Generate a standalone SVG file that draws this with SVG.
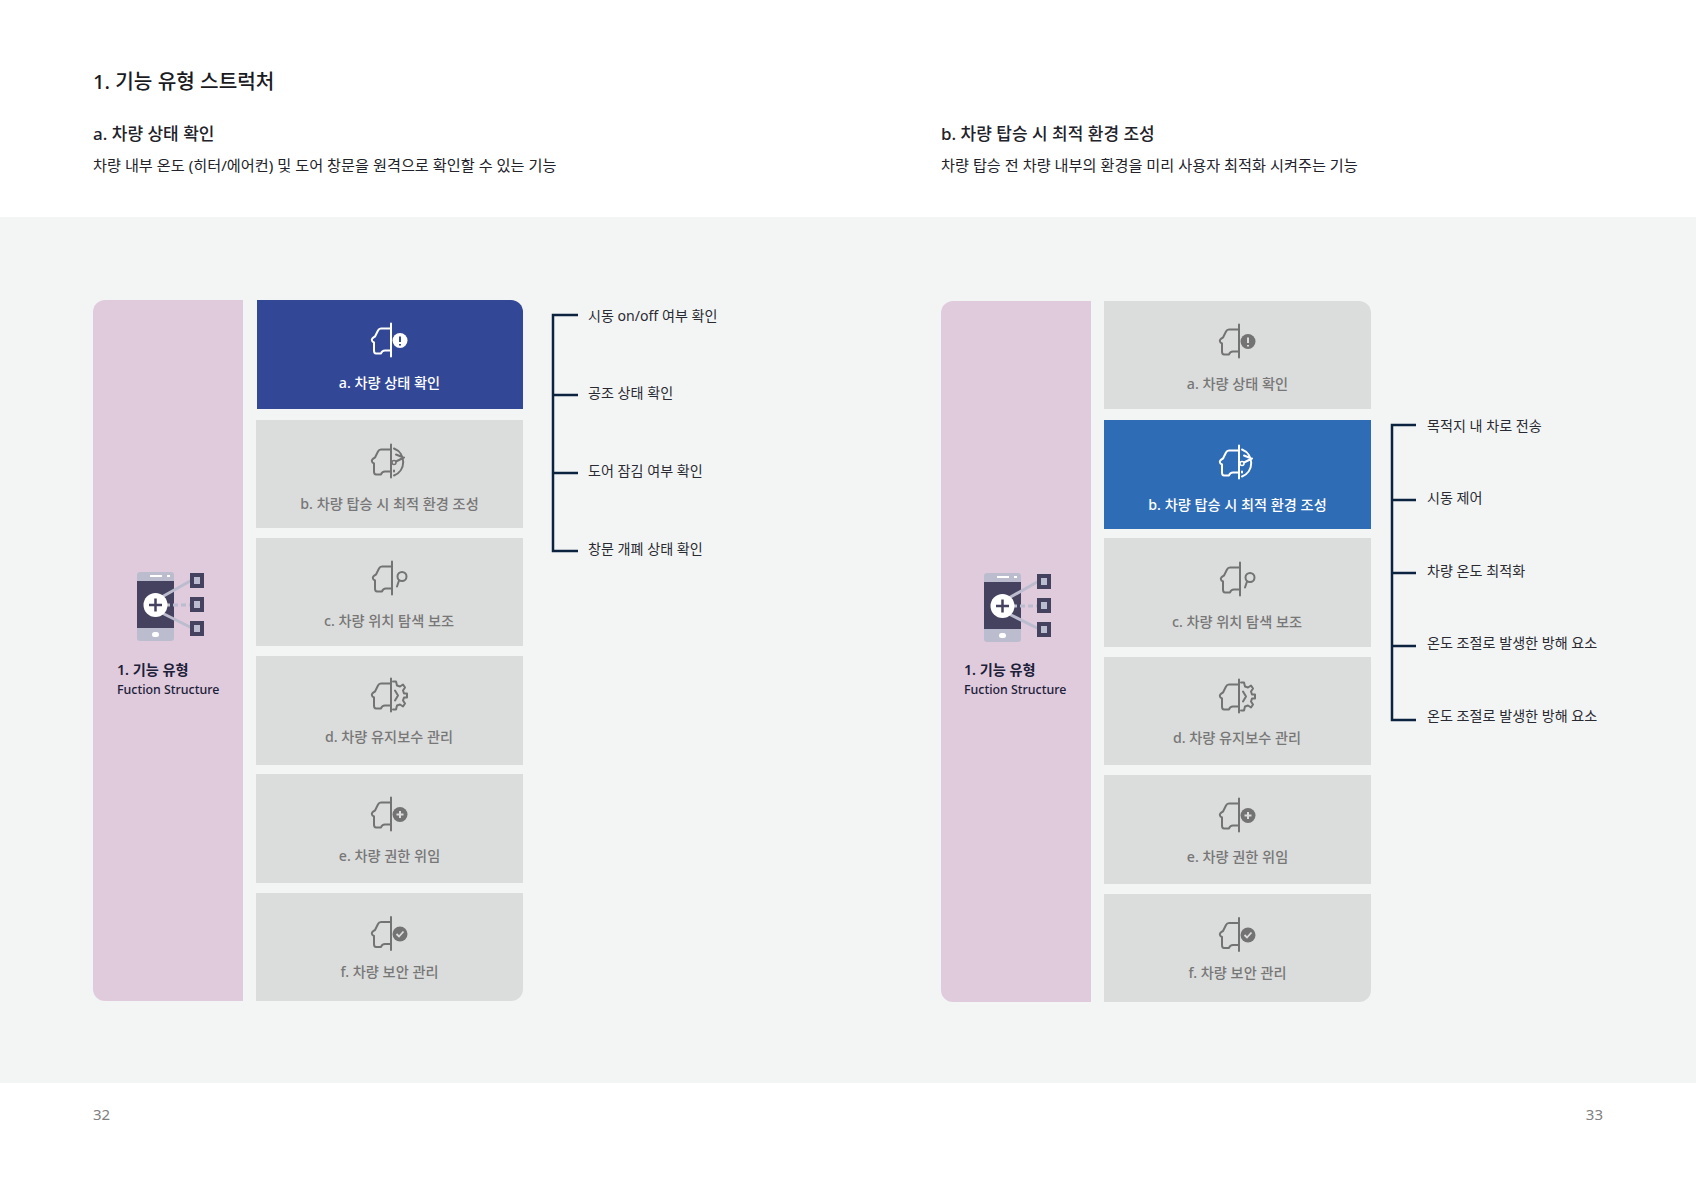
<svg xmlns="http://www.w3.org/2000/svg" width="1696" height="1200" viewBox="0 0 1696 1200">
<style>
text{font-family:"Noto Sans","Noto Sans CJK KR",sans-serif;}
.h1{font-size:20.2px;font-weight:500;fill:#1a1a22}
.h2{font-size:17px;font-weight:500;fill:#22222a}
.p{font-size:15.2px;font-weight:400;fill:#22222a}
.lab{font-size:14.200px;font-weight:500;text-anchor:middle;fill:#777}
.on{fill:#fff}
.leaf{font-size:14.100px;font-weight:400;fill:#2a2a32}
.pn{font-size:15px;fill:#808080}
.t1{font-size:14.200px;font-weight:600;fill:#1c2038}
.t2{font-size:12.400px;font-weight:500;fill:#1c2038}
.card{fill:#dbdcdc}
.cn{fill:none;stroke:#0c2340;stroke-width:2.500}
.ic{fill:none;stroke:currentColor;stroke-width:2;stroke-linejoin:round;stroke-linecap:round}
.g{color:#737373}
.w{color:#fff}
</style>
<defs>
<g id="car"><path class="ic" d="M1,-17V16M0,-12H-9Q-11,-12-12,-10L-15,-4Q-19,-2-18,0Q-18,1-16,2V10Q-16,13-14,13H-9Q-8,10-5,10H0"/></g>
<g id="phone">
<rect x="137" y="572" width="37" height="69" rx="3" fill="#bcbccf"/>
<rect x="137" y="581" width="37" height="47" fill="#45425f"/>
<rect x="150" y="575" width="12" height="2" fill="#fff"/>
<rect x="167" y="575" width="3" height="2" fill="#fff"/>
<rect x="152" y="632" width="7" height="5" rx="2.500" fill="#fff"/>
<path d="M160,598L192,580M160,612L192,628" stroke="#bcbccf" stroke-width="3"/>
<path d="M165,605H192" stroke="#bcbccf" stroke-width="3" stroke-dasharray="5 3"/>
<circle cx="155.500" cy="605" r="12" fill="#fff"/>
<path d="M149,605H162M155.500,598.500V611.500" stroke="#45425f" stroke-width="2.500"/>
<rect x="190" y="573" width="14" height="15" fill="#45425f"/><rect x="194" y="577" width="6" height="7" fill="#bcbccf"/>
<rect x="190" y="597" width="14" height="15" fill="#45425f"/><rect x="194" y="601" width="6" height="7" fill="#bcbccf"/>
<rect x="190" y="621" width="14" height="15" fill="#45425f"/><rect x="194" y="625" width="6" height="7" fill="#bcbccf"/>
</g>
<g id="ia"><use href="#car"/><circle cx="10" cy="0" r="7.500" fill="currentColor"/></g>
<g id="ib"><use href="#car"/><path class="ic" d="M4,-13A14.500,14.500 0 0 1 4,14M6,-7L11,-5M6,0L14,-4M4,9V10" stroke-width="1.800"/><circle cx="4" cy="1" r="2" fill="none" stroke="currentColor" stroke-width="1.500"/></g>
<g id="ic"><use href="#car"/><circle cx="11" cy="-2" r="4.500" fill="none" stroke="currentColor" stroke-width="2"/><path class="ic" d="M8,2L6,8"/></g>
<g id="id"><use href="#car"/><path class="ic" d="M3,-14L6,-14L7,-10L10,-9L13,-11L15,-8L13,-5L14,-2H17V2H14L13,5L15,8L13,11L10,9L7,10L6,14H3M5,-5L8,0L5,5"/></g>
<g id="ie"><use href="#car"/><circle cx="10" cy="0" r="7.500" fill="currentColor"/><path d="M6.500,0H13.500M10,-3.500V3.500" stroke="#dbdcdc" stroke-width="2"/></g>
<g id="if"><use href="#car"/><circle cx="10" cy="0" r="7.500" fill="currentColor"/><path d="M6.500,0L9,2.500L13.500,-2.500" fill="none" stroke="#dbdcdc" stroke-width="1.800"/></g>
</defs>
<rect width="1696" height="1200" fill="#fff"/>
<rect y="217" width="1696" height="866" fill="#f3f5f5"/>
<text class="h1" x="93" y="89">1. 기능 유형 스트럭처</text>
<text class="h2" x="93" y="140">a. 차량 상태 확인</text>
<text class="p" x="93" y="171">차량 내부 온도 (히터/에어컨) 및 도어 창문을 원격으로 확인할 수 있는 기능</text>
<text class="h2" x="941" y="140">b. 차량 탑승 시 최적 환경 조성</text>
<text class="p" x="941" y="171">차량 탑승 전 차량 내부의 환경을 미리 사용자 최적화 시켜주는 기능</text>

<g id="left-root">
<path d="M243,300V1001H105A12,12 0 0 1 93,989V312A12,12 0 0 1 105,300Z" fill="#e0cbdd"/>
<use href="#phone"/>
<text class="t1" x="117" y="675">1. 기능 유형</text>
<text class="t2" x="117" y="694">Fuction Structure</text>
</g>
<g id="left-a"><path d="M257,300H511A12,12 0 0 1 523,312V409H257Z" fill="#324897"/><use class="w" href="#ia" x="390" y="340.500"/><path d="M400,336.500V342M400,344V345.500" stroke="#324897" stroke-width="2"/><text class="lab on" x="389.500" y="388">a. 차량 상태 확인</text></g>
<g id="left-b"><rect class="card" x="256" y="420" width="267" height="108"/><use class="g" href="#ib" x="390" y="461.500"/><text class="lab" x="389.500" y="509">b. 차량 탑승 시 최적 환경 조성</text></g>
<g id="left-c"><rect class="card" x="256" y="538" width="267" height="108"/><use class="g" href="#ic" x="391" y="578.500"/><text class="lab" x="389" y="626">c. 차량 위치 탐색 보조</text></g>
<g id="left-d"><rect class="card" x="256" y="656" width="267" height="109"/><use class="g" href="#id" x="390" y="695.500"/><text class="lab" x="389" y="742">d. 차량 유지보수 관리</text></g>
<g id="left-e"><rect class="card" x="256" y="774" width="267" height="109"/><use class="g" href="#ie" x="390" y="814.500"/><text class="lab" x="389.500" y="861">e. 차량 권한 위임</text></g>
<g id="left-f"><path d="M256,893H523V989A12,12 0 0 1 511,1001H256Z" fill="#dbdcdc"/><use class="g" href="#if" x="390" y="934"/><text class="lab" x="389.500" y="977">f. 차량 보안 관리</text></g>
<g id="left-leaves">
<text class="leaf" x="588" y="321">시동 on/off 여부 확인</text>
<text class="leaf" x="588" y="398">공조 상태 확인</text>
<text class="leaf" x="588" y="476">도어 잠김 여부 확인</text>
<text class="leaf" x="588" y="554">창문 개폐 상태 확인</text>
</g>

<g id="right-root">
<path d="M1091,301V1002H953A12,12 0 0 1 941,990V313A12,12 0 0 1 953,301Z" fill="#e0cbdd"/>
<use href="#phone" x="847" y="1"/>
<text class="t1" x="964" y="675">1. 기능 유형</text>
<text class="t2" x="964" y="694">Fuction Structure</text>
</g>
<g id="right-a"><path d="M1104,301H1359A12,12 0 0 1 1371,313V409H1104Z" fill="#dbdcdc"/><use class="g" href="#ia" x="1238" y="341.500"/><path d="M1248,337.500V343M1248,345V346.500" stroke="#dbdcdc" stroke-width="2"/><text class="lab" x="1237.500" y="389">a. 차량 상태 확인</text></g>
<g id="right-b"><rect x="1104" y="420" width="267" height="109" fill="#2e6cb5"/><use class="w" href="#ib" x="1238" y="462.500"/><text class="lab on" x="1237.500" y="510">b. 차량 탑승 시 최적 환경 조성</text></g>
<g id="right-c"><rect class="card" x="1104" y="538" width="267" height="109"/><use class="g" href="#ic" x="1239" y="579.500"/><text class="lab" x="1237" y="627">c. 차량 위치 탐색 보조</text></g>
<g id="right-d"><rect class="card" x="1104" y="657" width="267" height="108"/><use class="g" href="#id" x="1238" y="696.500"/><text class="lab" x="1237" y="743">d. 차량 유지보수 관리</text></g>
<g id="right-e"><rect class="card" x="1104" y="775" width="267" height="109"/><use class="g" href="#ie" x="1238" y="815.500"/><text class="lab" x="1237.500" y="862">e. 차량 권한 위임</text></g>
<g id="right-f"><path d="M1104,894H1371V990A12,12 0 0 1 1359,1002H1104Z" fill="#dbdcdc"/><use class="g" href="#if" x="1238" y="935"/><text class="lab" x="1237.500" y="978">f. 차량 보안 관리</text></g>
<g id="right-leaves">
<text class="leaf" x="1427" y="431">목적지 내 차로 전송</text>
<text class="leaf" x="1427" y="503">시동 제어</text>
<text class="leaf" x="1427" y="576">차량 온도 최적화</text>
<text class="leaf" x="1427" y="648">온도 조절로 발생한 방해 요소</text>
<text class="leaf" x="1427" y="721">온도 조절로 발생한 방해 요소</text>
</g>
<g id="connectors">
<path class="cn" d="M578,315H553V551H578M553,395H578M553,473H578"/>
<path class="cn" d="M1416,425H1392V720H1416M1392,500H1416M1392,573H1416M1392,646H1416"/>
</g>
<text class="pn" x="93" y="1120">32</text>
<text class="pn" x="1603" y="1120" text-anchor="end">33</text>
</svg>
